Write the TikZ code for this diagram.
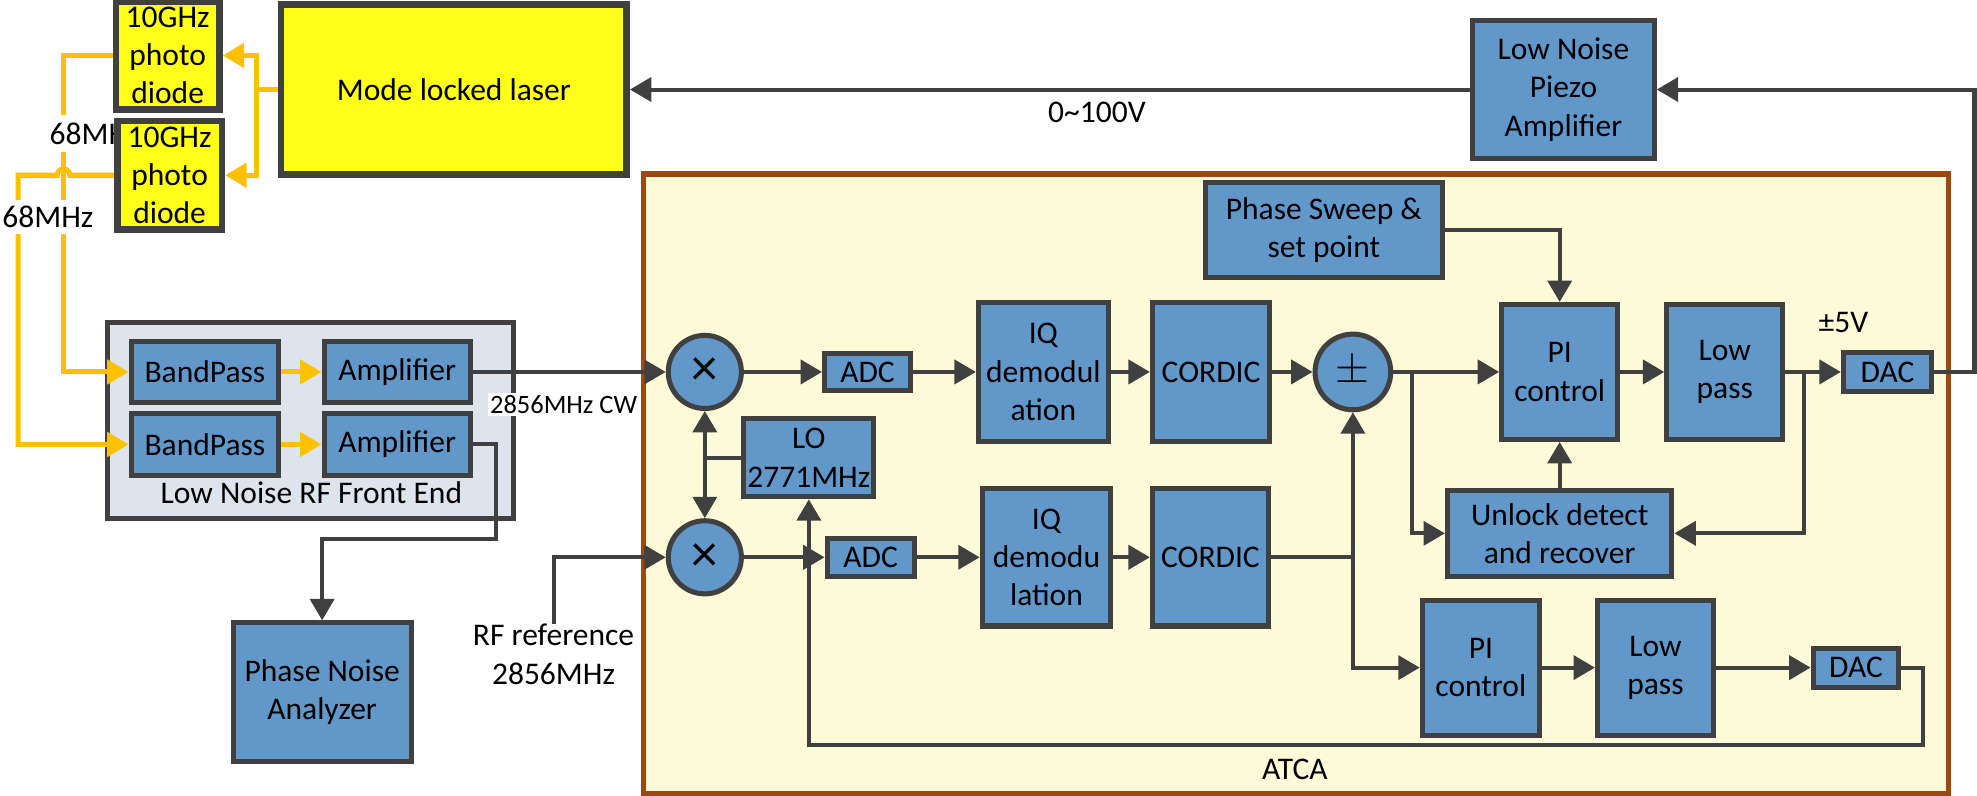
\documentclass[tikz,border=0pt]{standalone}
\usepackage{fontspec}
\setmainfont{Carlito}
\usepackage{tikz}
\usetikzlibrary{arrows.meta}
\definecolor{dline}{HTML}{404040}
\definecolor{bfill}{HTML}{6297CA}
\definecolor{yfill}{HTML}{FFFF1A}
\definecolor{orng}{HTML}{FFC000}
\definecolor{fefill}{HTML}{DDE4EE}
\definecolor{atcafill}{HTML}{FDFAD8}
\definecolor{atcaline}{HTML}{9B4A12}

\begin{document}
\begin{tikzpicture}[x=0.5pt,y=-0.5pt,>={Triangle[length=8.5pt,width=9.5pt]},
    font=\fontsize{12.5}{15.2}\selectfont,
    blk/.style={draw=dline,line width=2pt,fill=bfill,inner sep=0pt,align=center},
    ybox/.style={draw=dline,line width=2.6pt,fill=yfill,inner sep=0pt,align=center},
    mix/.style={circle,draw=dline,line width=2pt,fill=bfill,inner sep=0pt,minimum size=29pt},
    ln/.style={dline,line width=1.6pt},
    orl/.style={orng,line width=2pt},
    lab/.style={fill=white,inner sep=1pt}]
    \fill[white] (0,0) rectangle (1568,631);
    \useasboundingbox (0,0) rectangle (1568,631);

    \node[draw=atcaline,line width=2pt,fill=atcafill,minimum width=517.5pt,minimum height=245.5pt] (atca) at (1027.5,383.5) {};
    \node[draw=dline,line width=2pt,fill=fefill,minimum width=161pt,minimum height=77.5pt] (fe) at (246,333.5) {};
    \node (atcalab) at (1027,610) {ATCA};
    \node (felab) at (247,391) {Low Noise RF Front End};

    \node[ybox,minimum width=137pt,minimum height=67.5pt] (laser) at (360,71) {Mode locked laser};
    \node[ybox,minimum width=41pt,minimum height=43pt] (pdA) at (133,44) {10GHz\\photo\\diode};
    \node[blk,minimum width=72pt,minimum height=54.5pt] (piezo) at (1240,71) {Low Noise\\Piezo\\Amplifier};

    \node[blk,minimum width=58.5pt,minimum height=24.5pt] (bpA) at (162.5,295) {BandPass};
    \node[blk,minimum width=58pt,minimum height=24.5pt] (ampA) at (315,295) {Amplifier};
    \node[blk,minimum width=58.5pt,minimum height=24.5pt] (bpB) at (162.5,352.5) {BandPass};
    \node[blk,minimum width=58pt,minimum height=24.5pt] (ampB) at (315,352.5) {Amplifier};
    \node[blk,minimum width=70.5pt,minimum height=55pt] (pna) at (255.5,549) {Phase Noise\\Analyzer};

    \node[mix] (mixA) at (559,295) {\fontsize{21}{21}\selectfont ×};
    \node[mix] (mixB) at (559,442) {\fontsize{21}{21}\selectfont ×};
    \node[blk,minimum width=51.5pt,minimum height=31pt] (lo) at (641.5,363) {LO\\2771MHz};
    \node[blk,minimum width=34pt,minimum height=15pt] (adcA) at (688,295) {ADC};
    \node[blk,minimum width=34.5pt,minimum height=15pt] (adcB) at (690.5,442) {ADC};
    \node[blk,minimum width=51.5pt,minimum height=55pt] (iqA) at (827.5,295) {IQ\\demodul\\ation};
    \node[blk,minimum width=51pt,minimum height=54.5pt] (iqB) at (830,442) {IQ\\demodu\\lation};
    \node[blk,minimum width=46.5pt,minimum height=55pt] (corA) at (960.5,295) {CORDIC};
    \node[blk,minimum width=46pt,minimum height=54.5pt] (corB) at (960,442) {CORDIC};
    \node[mix,minimum size=30pt] (pm) at (1073,295) {\fontsize{18}{18}\selectfont$\pm$};
    \node[blk,minimum width=94pt,minimum height=37.5pt] (sweep) at (1050,182.5) {Phase Sweep \&\\set point};
    \node[blk,minimum width=46pt,minimum height=53.5pt] (piA) at (1237,295) {PI\\control};
    \node[blk,minimum width=46pt,minimum height=53.5pt] (lpA) at (1368,295) {Low\\pass};
    \node[blk,minimum width=35pt,minimum height=15.5pt] (dacA) at (1497,295) {DAC};
    \node[blk,minimum width=89pt,minimum height=34pt] (unlock) at (1237,423) {Unlock detect\\and recover};
    \node[blk,minimum width=46.5pt,minimum height=53.5pt] (piB) at (1174.5,529.5) {PI\\control};
    \node[blk,minimum width=46pt,minimum height=53.5pt] (lpB) at (1313,529.5) {Low\\pass};
    \node[blk,minimum width=34pt,minimum height=15.5pt] (dacB) at (1472,529.5) {DAC};

    \node (volt) at (870,89) {0\textasciitilde 100V};
    \node (pmv) at (1462,256) {±5V};
    \node[align=center,inner sep=0pt] (rfref) at (439,519) {RF reference\\2856MHz};

    \draw[orl,->] (pdA.west) -- ++(-39,0) |- (bpA.west);
    \node[lab,inner ysep=3pt,anchor=west] (fA) at (37,106) {68MH};
    \node[ybox,minimum width=41.5pt,minimum height=43pt] (pdB) at (134.5,139) {10GHz\\photo\\diode};
    \draw[orl,->] (pdB.west) -- ++(-35,0) arc[start angle=0,end angle=-180,radius=5] -- ++(-31,0) |- (bpB.west);
    \node[lab,inner ysep=2.5pt] (fB) at (38,172) {68MHz};
    \draw[orl,->] (laser.west) -- ++(-17,0) |- (pdA.east);
    \draw[orl,->] (laser.west) -- ++(-17,0) |- (pdB.east);
    \draw[orl,->] (bpA) -- (ampA);
    \draw[orl,->] (bpB) -- (ampB);

    \draw[ln,->] (ampA) -- (mixA);
    \node[lab,font=\fontsize{10.5}{12}\selectfont] (cw) at (447,321) {2856MHz CW};
    \draw[ln,->] (ampB.east) -- ++(18,0) -- ++(0,75) -| (pna.north);
    \draw[ln,->] (rfref.north) |- (mixB.west);
    \draw[ln,->] (lo.west) -| (mixA.south);
    \draw[ln,->] (lo.west) -| (mixB.north);
    \draw[ln,->] (mixA) -- (adcA);
    \draw[ln,->] (adcA) -- (iqA);
    \draw[ln,->] (iqA) -- (corA);
    \draw[ln,->] (corA) -- (pm);
    \draw[ln,->] (pm) -- (piA);
    \draw[ln,->] (piA) -- (lpA);
    \draw[ln,->] (lpA) -- (dacA);
    \draw[ln,->] (mixB) -- (adcB);
    \draw[ln,->] (adcB) -- (iqB);
    \draw[ln,->] (iqB) -- (corB);
    \draw[ln,->] (corB.east) -| (pm.south);
    \coordinate (tapC) at (pm.south |- corB.east);
    \draw[ln,->] (tapC) |- (piB.west);
    \coordinate (tapA) at (1120,295);
    \draw[ln,->] (tapA) |- (unlock.west);
    \coordinate (tapB) at (1431,295);
    \draw[ln,->] (tapB) |- (unlock.east);
    \draw[ln,->] (unlock) -- (piA);
    \draw[ln,->] (sweep.east) -| (piA.north);
    \draw[ln,->] (piB) -- (lpB);
    \draw[ln,->] (lpB) -- (dacB);
    \draw[ln,->] (dacB.east) -- ++(17,0) -- ++(0,61.5) -| (lo.south);
    \draw[ln,->] (dacA.east) -- ++(32,0) |- (piezo.east);
    \draw[ln,->] (piezo) -- (laser);
\end{tikzpicture}
\end{document}
